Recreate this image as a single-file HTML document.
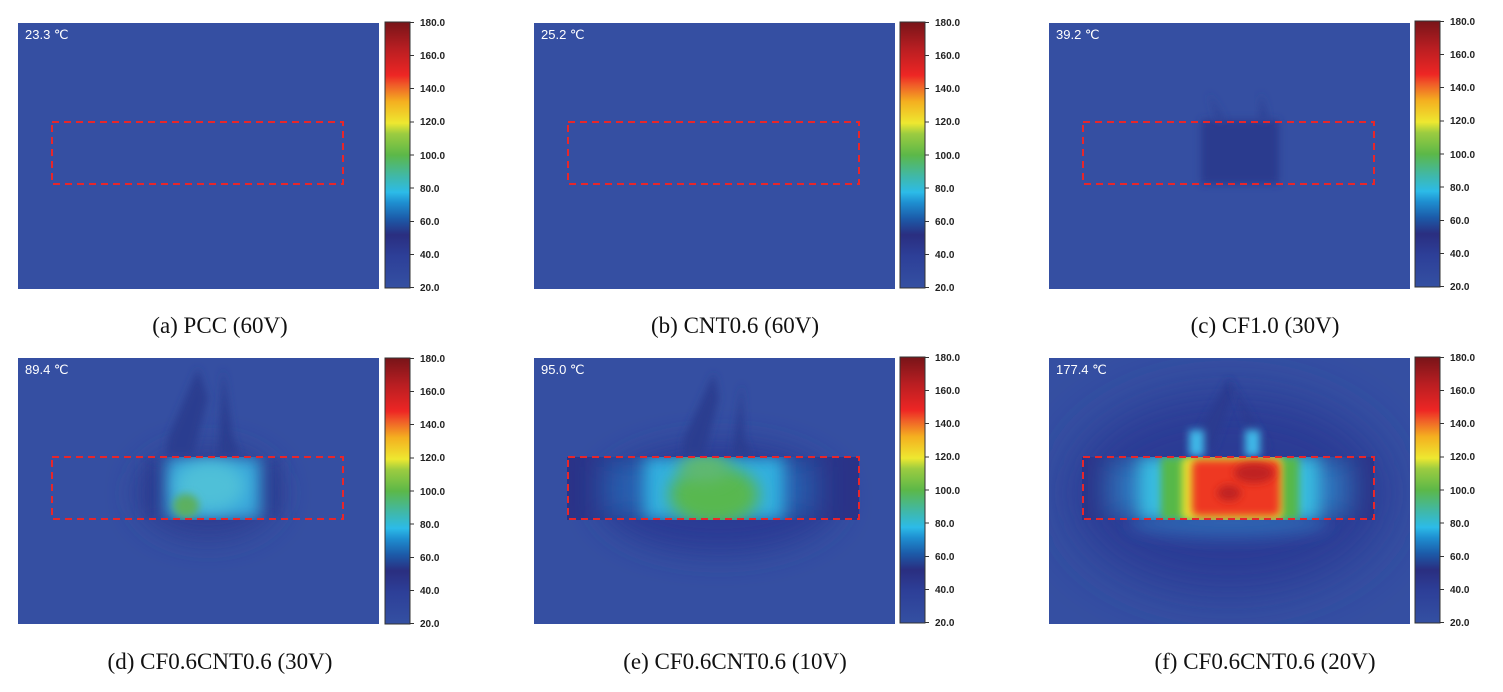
<!DOCTYPE html>
<html><head><meta charset="utf-8"><style>
html,body{margin:0;padding:0;background:#fff;width:1503px;height:692px;overflow:hidden}
svg text{font-family:"Liberation Sans",sans-serif}
.cap{font-family:"Liberation Serif",serif;font-size:23px;fill:#111}
.tk{font-size:10px;fill:#222;font-weight:bold}
.tt{font-size:13px;fill:#fff}
</style></head><body>
<svg width="1503" height="692" viewBox="0 0 1503 692" xmlns="http://www.w3.org/2000/svg">
<defs>
<linearGradient id="cb" x1="0" y1="1" x2="0" y2="0">
<stop offset="0" stop-color="#3450a2"/>
<stop offset="0.12" stop-color="#2d3f98"/>
<stop offset="0.2" stop-color="#2a2e80"/>
<stop offset="0.26" stop-color="#1c5aa8"/>
<stop offset="0.32" stop-color="#1e8ed0"/>
<stop offset="0.36" stop-color="#2cbbe8"/>
<stop offset="0.42" stop-color="#40b8a8"/>
<stop offset="0.5" stop-color="#5cb848"/>
<stop offset="0.58" stop-color="#9ccc40"/>
<stop offset="0.62" stop-color="#eee830"/>
<stop offset="0.7" stop-color="#f4b020"/>
<stop offset="0.76" stop-color="#f06028"/>
<stop offset="0.8" stop-color="#ee2624"/>
<stop offset="0.9" stop-color="#b81e22"/>
<stop offset="1" stop-color="#781418"/>
</linearGradient>
<filter id="b4" x="-50%" y="-50%" width="200%" height="200%"><feGaussianBlur stdDeviation="4"/></filter>
<filter id="b8" x="-50%" y="-50%" width="200%" height="200%"><feGaussianBlur stdDeviation="8"/></filter>
<filter id="b15" x="-50%" y="-50%" width="200%" height="200%"><feGaussianBlur stdDeviation="15"/></filter>
<filter id="b25" x="-50%" y="-50%" width="200%" height="200%"><feGaussianBlur stdDeviation="25"/></filter>
<clipPath id="img"><rect x="0" y="0" width="361" height="266"/></clipPath>
<clipPath id="bar"><rect x="33" y="99" width="292" height="63"/></clipPath>
<g id="cbar">
<rect x="0" y="0" width="25" height="266" fill="url(#cb)" stroke="#333" stroke-width="1"/>
<g stroke="#333" stroke-width="1">
<line x1="25" y1="0.5" x2="29" y2="0.5"/><line x1="25" y1="33.5" x2="29" y2="33.5"/><line x1="25" y1="66.5" x2="29" y2="66.5"/><line x1="25" y1="100" x2="29" y2="100"/><line x1="25" y1="133" x2="29" y2="133"/><line x1="25" y1="166" x2="29" y2="166"/><line x1="25" y1="199.5" x2="29" y2="199.5"/><line x1="25" y1="232.5" x2="29" y2="232.5"/><line x1="25" y1="265.5" x2="29" y2="265.5"/>
</g>
<g class="tk">
<text x="35" y="4">180.0</text><text x="35" y="37">160.0</text><text x="35" y="70">140.0</text><text x="35" y="103">120.0</text><text x="35" y="137">100.0</text><text x="35" y="170">80.0</text><text x="35" y="203">60.0</text><text x="35" y="236">40.0</text><text x="35" y="269">20.0</text>
</g>
</g>
<rect id="dash" x="34" y="99" width="291" height="62" fill="none" stroke="#e8262a" stroke-width="2" stroke-dasharray="7,5"/>
</defs>

<!-- (a) -->
<g transform="translate(18,23)">
<rect width="361" height="266" fill="#354fa2"/>
<use href="#dash"/>
<text class="tt" x="7" y="16">23.3 ℃</text>
</g>
<use href="#cbar" x="385" y="22"/>
<text class="cap" x="220" y="333" text-anchor="middle">(a) PCC (60V)</text>

<!-- (b) -->
<g transform="translate(534,23)">
<rect width="361" height="266" fill="#354fa2"/>
<use href="#dash"/>
<text class="tt" x="7" y="16">25.2 ℃</text>
</g>
<use href="#cbar" x="900" y="22"/>
<text class="cap" x="735" y="333" text-anchor="middle">(b) CNT0.6 (60V)</text>

<!-- (c) -->
<g transform="translate(1049,23)">
<rect width="361" height="266" fill="#354fa2"/>
<g clip-path="url(#img)">
<rect x="152" y="97" width="78" height="64" fill="#2c3a8e" filter="url(#b4)"/>
<path d="M160 70 L168 98 L176 98 Z" fill="#2e4296" filter="url(#b4)"/>
<path d="M212 70 L210 98 L220 98 Z" fill="#2e4296" filter="url(#b4)"/>
</g>
<use href="#dash"/>
<text class="tt" x="7" y="16">39.2 ℃</text>
</g>
<use href="#cbar" x="1415" y="21"/>
<text class="cap" x="1265" y="333" text-anchor="middle">(c) CF1.0 (30V)</text>

<!-- (d) -->
<g transform="translate(18,358)">
<rect width="361" height="266" fill="#354fa2"/>
<g clip-path="url(#img)">
<ellipse cx="190" cy="135" rx="70" ry="45" fill="#2d3c92" filter="url(#b15)"/>
<path d="M180 10 L150 80 L148 98 L175 98 L190 40 Z" fill="#2c3c90" filter="url(#b4)"/>
<path d="M205 10 L215 80 L222 98 L200 98 Z" fill="#2c3c90" filter="url(#b4)"/>
<g clip-path="url(#bar)">
<rect x="130" y="99" width="130" height="63" fill="#2a3a90" filter="url(#b8)"/>
<rect x="148" y="99" width="95" height="63" fill="#38a8dc" filter="url(#b8)"/>
<ellipse cx="192" cy="128" rx="35" ry="25" fill="#50c0d8" filter="url(#b8)"/>
<ellipse cx="168" cy="148" rx="13" ry="12" fill="#5cb060" filter="url(#b4)"/>
</g>
</g>
<use href="#dash"/>
<text class="tt" x="7" y="16">89.4 ℃</text>
</g>
<use href="#cbar" x="385" y="358"/>
<text class="cap" x="220" y="669" text-anchor="middle">(d) CF0.6CNT0.6 (30V)</text>

<!-- (e) -->
<g transform="translate(534,358)">
<rect width="361" height="266" fill="#354fa2"/>
<g clip-path="url(#img)">
<ellipse cx="185" cy="140" rx="120" ry="55" fill="#2a3a94" filter="url(#b15)"/>
<path d="M180 15 L150 80 L148 98 L170 98 L185 40 Z" fill="#2c3c90" filter="url(#b4)"/>
<path d="M208 25 L210 80 L218 98 L198 98 Z" fill="#2c3c90" filter="url(#b4)"/>
<g clip-path="url(#bar)">
<rect x="33" y="99" width="292" height="63" fill="#2a3388"/>
<rect x="70" y="99" width="210" height="63" fill="#2860b0" filter="url(#b15)"/>
<rect x="110" y="99" width="140" height="63" fill="#30b0e0" filter="url(#b8)"/>
<ellipse cx="180" cy="137" rx="45" ry="30" fill="#58b850" filter="url(#b8)"/>
<ellipse cx="170" cy="110" rx="25" ry="14" fill="#60b870" filter="url(#b8)"/>
</g>
</g>
<use href="#dash"/>
<text class="tt" x="7" y="16">95.0 ℃</text>
</g>
<use href="#cbar" x="900" y="357"/>
<text class="cap" x="735" y="669" text-anchor="middle">(e) CF0.6CNT0.6 (10V)</text>

<!-- (f) -->
<g transform="translate(1049,358)">
<rect width="361" height="266" fill="#354fa2"/>
<g clip-path="url(#img)">
<ellipse cx="180" cy="135" rx="160" ry="100" fill="#2a3a94" filter="url(#b25)"/>
<path d="M180 20 L140 90 L165 90 L185 35 Z" fill="#2a3a90" filter="url(#b4)"/>
<path d="M180 20 L205 90 L220 90 Z" fill="#2a3a90" filter="url(#b4)"/>
<rect x="140" y="72" width="15" height="26" fill="#40b8e8" filter="url(#b4)"/>
<rect x="196" y="72" width="15" height="26" fill="#40b8e8" filter="url(#b4)"/>
<ellipse cx="180" cy="165" rx="100" ry="15" fill="#2e62b0" filter="url(#b8)"/>
<g clip-path="url(#bar)">
<rect x="33" y="99" width="292" height="63" fill="#2a3388"/>
<rect x="60" y="99" width="240" height="63" fill="#2e78c0" filter="url(#b15)"/>
<rect x="90" y="99" width="180" height="63" fill="#38bce0" filter="url(#b8)"/>
<rect x="112" y="99" width="138" height="63" fill="#56b848" filter="url(#b4)"/>
<rect x="133" y="99" width="100" height="63" rx="6" fill="#e8e030" filter="url(#b4)"/>
<rect x="143" y="102" width="88" height="56" rx="6" fill="#ee3822" filter="url(#b4)"/>
<ellipse cx="205" cy="115" rx="20" ry="10" fill="#c02020" filter="url(#b4)"/>
<ellipse cx="180" cy="135" rx="12" ry="8" fill="#c02020" filter="url(#b4)"/>
</g>
</g>
<use href="#dash"/>
<text class="tt" x="7" y="16">177.4 ℃</text>
</g>
<use href="#cbar" x="1415" y="357"/>
<text class="cap" x="1265" y="669" text-anchor="middle">(f) CF0.6CNT0.6 (20V)</text>
</svg>
</body></html>
